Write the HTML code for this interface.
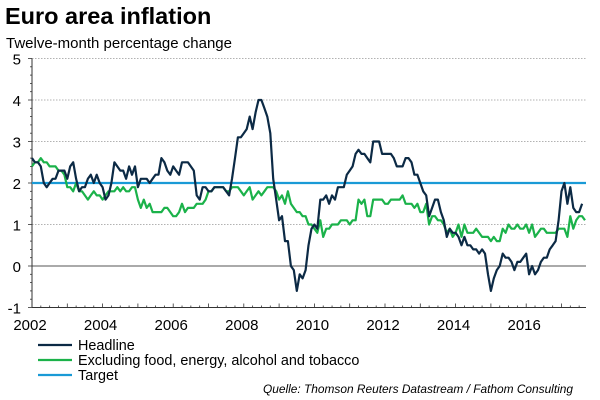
<!DOCTYPE html>
<html><head><meta charset="utf-8"><style>
body{margin:0;width:600px;height:400px;background:#fff;font-family:"Liberation Sans",Arial,sans-serif;overflow:hidden}
svg{display:block}
</style></head><body>
<svg id="chart" width="600" height="400" viewBox="0 0 600 400">
<text x="5" y="24" font-size="23.5" font-weight="bold" fill="#000">Euro area inflation</text>
<text x="6" y="48" font-size="15" fill="#000">Twelve-month percentage change</text>
<g id="grid"></g><g id="axes"></g><g id="series"></g>
<g>
<line x1="38" y1="345" x2="72" y2="345" stroke="#0c2a45" stroke-width="2.2"/>
<text x="78" y="350" font-size="14.4">Headline</text>
<line x1="38" y1="360" x2="72" y2="360" stroke="#1bb24a" stroke-width="2.2"/>
<text x="78" y="365" font-size="14.4">Excluding food, energy, alcohol and tobacco</text>
<line x1="38" y1="375" x2="72" y2="375" stroke="#1a9ad6" stroke-width="2.2"/>
<text x="78" y="380" font-size="14.4">Target</text>
</g>
<text x="573" y="393" font-size="11.9" font-style="italic" text-anchor="end">Quelle: Thomson Reuters Datastream / Fathom Consulting</text>
</svg>
<script>
const yTicks=[-1,0,1,2,3,4,5];
const xTickLabels=[2002,2004,2006,2008,2010,2012,2014,2016];
const targetValue=2;
const headline=[2.6,2.5,2.5,2.4,2.0,1.9,2.0,2.1,2.1,2.3,2.3,2.3,
2.1,2.4,2.5,2.1,1.8,1.9,1.9,2.1,2.2,2.0,2.2,2.0,
1.9,1.6,1.7,2.0,2.5,2.4,2.3,2.3,2.1,2.4,2.2,2.4,
1.9,2.1,2.1,2.1,2.0,2.1,2.2,2.2,2.6,2.5,2.3,2.2,
2.4,2.3,2.2,2.5,2.5,2.5,2.4,2.3,1.7,1.6,1.9,1.9,
1.8,1.8,1.9,1.9,1.9,1.9,1.8,1.7,2.1,2.6,3.1,3.1,
3.2,3.3,3.6,3.3,3.7,4.0,4.0,3.8,3.6,3.2,2.1,1.6,
1.1,1.2,0.6,0.6,0.0,-0.1,-0.6,-0.2,-0.3,-0.1,0.5,0.9,
1.0,0.9,1.6,1.6,1.7,1.5,1.7,1.6,1.9,1.9,1.9,2.2,
2.3,2.4,2.7,2.8,2.7,2.7,2.6,2.5,3.0,3.0,3.0,2.7,
2.7,2.7,2.7,2.6,2.4,2.4,2.4,2.6,2.6,2.5,2.2,2.2,
2.0,1.8,1.7,1.2,1.4,1.6,1.6,1.3,1.1,0.7,0.9,0.8,
0.8,0.7,0.5,0.7,0.5,0.5,0.4,0.4,0.3,0.4,0.3,-0.2,
-0.6,-0.3,-0.1,0.0,0.3,0.2,0.2,0.1,-0.1,0.1,0.1,0.2,
0.3,-0.2,0.0,-0.2,-0.1,0.1,0.2,0.2,0.4,0.5,0.6,1.1,
1.8,2.0,1.5,1.9,1.4,1.3,1.3,1.5];
const core=[2.4,2.5,2.5,2.6,2.5,2.5,2.4,2.4,2.4,2.3,2.3,2.2,
1.9,1.9,1.8,2.0,1.8,1.8,1.7,1.6,1.7,1.8,1.7,1.7,
1.6,1.7,1.8,1.8,1.8,1.9,1.8,1.9,1.8,1.8,1.9,1.9,
1.6,1.4,1.6,1.4,1.5,1.3,1.3,1.3,1.3,1.4,1.4,1.3,
1.2,1.2,1.3,1.5,1.3,1.4,1.4,1.4,1.5,1.5,1.5,1.6,
1.8,1.8,1.9,1.9,1.9,1.9,1.8,1.8,1.9,1.9,1.9,1.8,
1.7,1.8,1.9,1.6,1.7,1.8,1.7,1.8,1.9,1.9,1.9,1.8,
1.6,1.7,1.5,1.8,1.5,1.4,1.3,1.3,1.2,1.2,1.0,1.0,
0.9,0.8,1.1,0.7,0.9,0.9,1.0,1.0,1.0,1.1,1.1,1.1,
1.0,1.1,1.1,1.6,1.5,1.6,1.2,1.2,1.6,1.6,1.6,1.6,
1.5,1.5,1.6,1.6,1.6,1.6,1.7,1.5,1.5,1.5,1.4,1.5,
1.3,1.3,1.5,1.0,1.2,1.2,1.1,1.1,1.0,0.8,0.9,0.7,
0.8,1.0,0.7,1.0,0.8,0.8,0.8,0.9,0.8,0.7,0.7,0.7,
0.6,0.7,0.6,0.6,0.9,0.8,1.0,0.9,0.9,1.0,0.9,0.9,
1.0,0.8,1.0,0.7,0.8,0.9,0.9,0.8,0.8,0.8,0.8,0.9,
0.9,0.9,0.7,1.2,0.9,1.1,1.2,1.2,1.1];

const X0=32,PX_PER_YEAR=35.3,Y0=266,PX_PER_UNIT=41.5,XR=586;
const xScale=t=>X0+(t-2002)*PX_PER_YEAR;
const yScale=v=>Y0-v*PX_PER_UNIT;
const NS="http://www.w3.org/2000/svg";
function mk(tag,attrs,parent){const e=document.createElementNS(NS,tag);for(const k in attrs)e.setAttribute(k,attrs[k]);parent.appendChild(e);return e;}
const grid=document.getElementById('grid'),axes=document.getElementById('axes'),series=document.getElementById('series');
yTicks.forEach(v=>{
  const y=yScale(v);
  if(v>0){const g=mk('line',{x1:X0,x2:XR,y1:y,y2:y,stroke:'#999','stroke-width':0.8,'stroke-dasharray':'1.5,1.5'},grid);
  
  }
  const t=mk('text',{x:21,y:y+6,'font-size':15,'text-anchor':'end',fill:'#000'},axes);
  t.textContent=v;
  
  
});
for(let v=-1;v<=5.001;v+=0.2){const y=yScale(v);mk('line',{x1:X0-(Math.abs(v-Math.round(v))<0.01?4:2),x2:X0,y1:y,y2:y,stroke:'#333','stroke-width':0.8},axes);}
const zl=mk('line',{x1:X0,x2:XR,y1:yScale(0),y2:yScale(0),stroke:'#555','stroke-width':1},axes);


const ya=mk('line',{x1:X0,x2:X0,y1:yScale(5),y2:yScale(-1),stroke:'#333','stroke-width':1},axes);


const xa=mk('line',{x1:X0,x2:XR,y1:yScale(-1),y2:yScale(-1),stroke:'#333','stroke-width':1},axes);


for(let q=0;2002+q/4<=2017.7;q++){const x=xScale(2002+q/4);mk('line',{x1:x,x2:x,y1:yScale(-1),y2:yScale(-1)-(q%4==0?4:2),stroke:'#333','stroke-width':0.8},axes);}
xTickLabels.forEach(yr=>{
  const t=mk('text',{x:xScale(yr)-2,y:330,'font-size':15,'text-anchor':'middle',fill:'#000'},axes);
  t.textContent=yr;
  
  
});
const tl=mk('line',{x1:X0,x2:XR,y1:yScale(targetValue),y2:yScale(targetValue),stroke:'#1a9ad6','stroke-width':2.2},series);


function path(arr,color,name){
  const d=arr.map((v,i)=>(i?'L':'M')+xScale(2002+i/12).toFixed(1)+','+yScale(v).toFixed(1)).join('');
  const p=mk('path',{d:d,fill:'none',stroke:color,'stroke-width':2.2,'stroke-linejoin':'round'},series);
  
  
}
path(core,'#1bb24a','core-inflation-line');
path(headline,'#0c2a45','headline-inflation-line');
</script>
</body></html>
